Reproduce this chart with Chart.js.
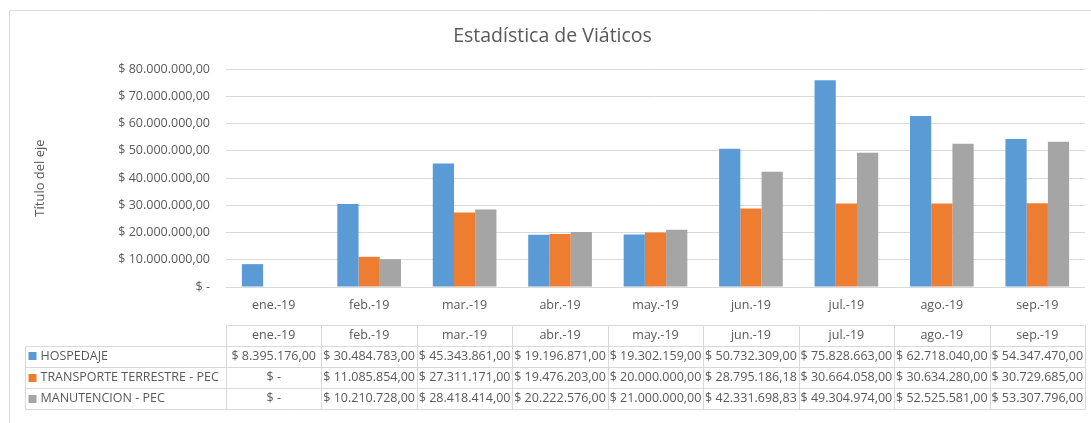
<!DOCTYPE html>
<html>
<head>
<meta charset="utf-8">
<script src="https://cdn.jsdelivr.net/npm/chart.js@4/dist/chart.umd.min.js"></script>
<style>
  html, body { margin: 0; padding: 0; background: #fff; }
  #wrap { width: 1091px; height: 423px; position: relative; }
</style>
</head>
<body>
<div id="wrap"><canvas id="chart-viaticos"></canvas></div>
<script>
// Estadística de Viáticos - monthly bars + Excel style data table underneath

const months = ['ene.-19', 'feb.-19', 'mar.-19', 'abr.-19', 'may.-19', 'jun.-19', 'jul.-19', 'ago.-19', 'sep.-19'];
const seriesNames = ['HOSPEDAJE', 'TRANSPORTE TERRESTRE - PEC', 'MANUTENCION - PEC'];
const hospedaje = [8395176, 30484783, 45343861, 19196871, 19302159, 50732309, 75828663, 62718040, 54347470];
const transporte = [0, 11085854, 27311171, 19476203, 20000000, 28795186.18, 30664058, 30634280, 30729685];
const manutencion = [0, 10210728, 28418414, 20222576, 21000000, 42331698.83, 49304974, 52525581, 53307796];
const yMax = 80000000;
const yStep = 10000000;

const colors = ['#5b9bd5', '#ed7d31', '#a5a5a5'];
const textColor = '#595959';
const lineColor = '#d9d9d9';
const fontFamily = '"Open Sans", sans-serif';

// "$ 30.484.783,00" style, zero shown as "$ -"
function money(v) {
    if (!v) return '$ -';
    const parts = v.toFixed(2).split('.');
    const intPart = parts[0].replace(/\B(?=(\d{3})+(?!\d))/g, '.');
    return '$ ' + intPart + ',' + parts[1];
}

const allSeries = [hospedaje, transporte, manutencion];

// outer chart frame (only left/top edges are visible in the picture)
const framePlugin = {
    id: 'frame',
    beforeDraw(chart) {
        const ctx = chart.ctx;
        ctx.save();
        ctx.fillStyle = '#fff';
        ctx.fillRect(0, 0, chart.width, chart.height);
        ctx.strokeStyle = lineColor;
        ctx.lineWidth = 1;
        ctx.beginPath();
        ctx.moveTo(9.5, chart.height);
        ctx.lineTo(9.5, 10.5);
        ctx.lineTo(chart.width, 10.5);
        ctx.stroke();
        ctx.restore();
    }
};

// data table below the x axis, columns follow the category scale
const tablePlugin = {
    id: 'dataTable',
    afterDraw(chart) {
        const ctx = chart.ctx;
        const x = chart.scales.x;
        const colW = x.width / months.length;
        const top = 324.5;
        const rowH = 21.2;
        const legLeft = 25.5;
        const bottom = top + rowH * 4;
        const px = v => Math.round(v) + 0.5;

        ctx.save();
        ctx.strokeStyle = lineColor;
        ctx.lineWidth = 1;
        ctx.beginPath();
        // horizontal lines
        ctx.moveTo(px(x.left), px(top));
        ctx.lineTo(px(x.right), px(top));
        for (let r = 1; r <= 4; r++) {
            ctx.moveTo(legLeft, px(top + r * rowH));
            ctx.lineTo(px(x.right), px(top + r * rowH));
        }
        // vertical lines
        ctx.moveTo(legLeft, px(top + rowH));
        ctx.lineTo(legLeft, px(bottom));
        for (let i = 0; i <= months.length; i++) {
            const xx = px(x.left + i * colW);
            ctx.moveTo(xx, px(top));
            ctx.lineTo(xx, px(bottom));
        }
        ctx.stroke();

        ctx.font = '12.5px ' + fontFamily;
        ctx.fillStyle = textColor;
        ctx.textBaseline = 'middle';

        // header
        ctx.textAlign = 'center';
        months.forEach((m, i) => {
            ctx.fillText(m, x.getPixelForValue(i), top + rowH / 2);
        });

        // rows
        allSeries.forEach((vals, r) => {
            const cy = top + (r + 1) * rowH + rowH / 2;
            ctx.fillStyle = colors[r];
            ctx.fillRect(legLeft + 3, Math.round(cy - 4), 8, 8);
            ctx.fillStyle = textColor;
            ctx.textAlign = 'left';
            ctx.fillText(seriesNames[r], legLeft + 15, cy, x.left - legLeft - 18);
            ctx.textAlign = 'center';
            vals.forEach((v, i) => {
                ctx.fillText(money(v), x.getPixelForValue(i), cy, colW - 1);
            });
        });
        ctx.restore();
    }
};

const ctx = document.getElementById('chart-viaticos').getContext('2d');

new Chart(ctx, {
    type: 'bar',
    data: {
        labels: months,
        datasets: seriesNames.map((name, i) => ({
            label: name,
            data: allSeries[i],
            backgroundColor: colors[i],
            borderWidth: 0,
            categoryPercentage: 0.667,
            barPercentage: 1
        }))
    },
    options: {
        responsive: true,
        maintainAspectRatio: false,
        animation: false,
        layout: {
            padding: { left: 20, right: 6, top: 0, bottom: 106 }
        },
        plugins: {
            legend: { display: false },
            tooltip: { enabled: false },
            title: {
                display: true,
                text: 'Estadística de Viáticos',
                color: textColor,
                font: { family: fontFamily, size: 19.5, weight: 'normal' },
                padding: { top: 25, bottom: 20.6 }
            }
        },
        scales: {
            x: {
                grid: { display: false, drawTicks: false },
                border: { display: false },
                ticks: {
                    color: textColor,
                    font: { family: fontFamily, size: 12.5 },
                    padding: 11,
                    maxRotation: 0
                },
                afterFit(scale) { scale.height = 30; }
            },
            y: {
                min: 0,
                max: yMax,
                grid: { color: lineColor, drawTicks: false },
                border: { display: false },
                ticks: {
                    stepSize: yStep,
                    color: textColor,
                    font: { family: fontFamily, size: 12.5 },
                    padding: 16,
                    callback: v => money(v)
                },
                title: {
                    display: true,
                    text: 'Título del eje',
                    color: textColor,
                    font: { family: fontFamily, size: 13 },
                    padding: { top: 12, bottom: 0 }
                },
                afterFit(scale) { scale.width = 206; }
            }
        }
    },
    plugins: [framePlugin, tablePlugin]
});
</script>
</body>
</html>
